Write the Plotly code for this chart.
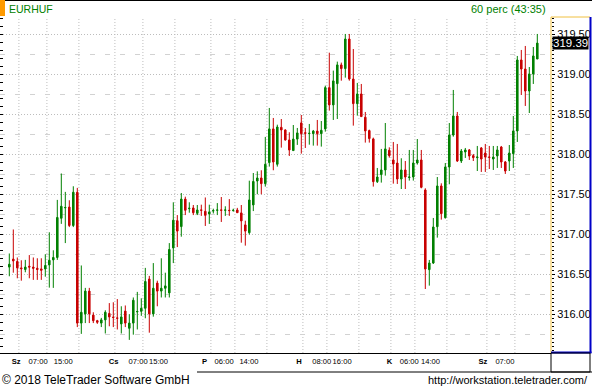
import plotly.graph_objects as go

# ---------------- data (EURHUF, 60-minute candles) ----------------
OPEN = [316.59, 316.69, 316.66, 316.58, 316.56, 316.60, 316.59, 316.575, 316.567, 316.567,
        316.617, 316.68, 316.71, 317.20, 317.33, 317.34, 317.11, 317.525, 315.89, 316.005,
        316.29, 315.99, 315.92, 315.89, 315.93, 316.01, 315.965, 315.955, 315.88, 316.04,
        315.825, 315.89, 316.03, 316.037, 316.075, 316.44, 316.005, 316.39, 316.29, 316.325,
        316.267, 316.83, 317.17, 317.096, 317.44, 317.32, 317.329, 317.262, 317.305, 317.287,
        317.254, 317.29, 317.30, 317.305, 317.30, 317.30, 317.296, 317.304, 317.267, 317.117,
        317.02, 317.367, 317.666, 317.704, 317.633, 317.896, 318.317, 317.875, 318.337, 318.304,
        318.179, 318.046, 318.19, 318.392, 318.27, 318.258, 318.258, 318.29, 318.258, 318.317,
        318.833, 318.617, 318.883, 319.117, 319.071, 319.441, 318.941, 318.633, 318.754, 318.463,
        318.296, 318.192, 317.658, 317.746, 317.804, 318.05, 317.929, 317.891, 317.691, 317.804,
        317.71, 317.716, 317.891, 317.929, 317.554, 316.558, 316.641, 317.095, 317.604, 317.208,
        317.841, 318.241, 318.479, 317.916, 318.029, 318.054, 317.983, 317.958, 318.079, 318.016,
        317.966, 317.941, 317.979, 318.091, 317.904, 317.916, 318.008, 318.291, 319.179, 319.066,
        318.791, 319.004, 319.191]
HIGH = [316.76, 317.06, 316.71, 316.675, 316.68, 316.74, 316.71, 316.70, 316.70, 316.75,
        317.025, 316.80, 317.43, 317.76, 317.53, 317.425, 317.60, 317.58, 316.61, 316.33,
        316.33, 316.025, 315.93, 315.955, 316.05, 316.14, 316.15, 316.19, 316.10, 316.11,
        316.00, 316.21, 316.28, 316.20, 316.58, 316.48, 316.64, 316.42, 316.70, 316.52,
        316.89, 317.40, 317.24, 317.516, 317.47, 317.40, 317.366, 317.366, 317.37, 317.46,
        317.37, 317.32, 317.39, 317.466, 317.35, 317.44, 317.32, 317.33, 317.366, 317.17,
        317.67, 317.766, 317.787, 317.80, 318.217, 318.579, 318.454, 318.37, 318.441, 318.312,
        318.275, 318.366, 318.329, 318.491, 318.329, 318.379, 318.304, 318.429, 318.416, 318.858,
        319.27, 319.046, 319.158, 319.146, 319.504, 319.504, 319.316, 318.892, 318.879, 318.529,
        318.308, 318.208, 317.829, 318.067, 318.391, 318.087, 318.154, 318.129, 317.95, 317.916,
        318.054, 318.054, 318.191, 318.054, 317.575, 316.679, 317.204, 317.716, 317.637, 317.891,
        318.391, 318.804, 318.529, 318.066, 318.079, 318.066, 318.004, 318.104, 318.091, 318.129,
        318.104, 318.104, 318.104, 318.104, 317.916, 318.116, 318.479, 319.229, 319.304, 319.354,
        319.091, 319.341, 319.504]
LOW = [316.475, 316.52, 316.45, 316.42, 316.525, 316.45, 316.43, 316.43, 316.43, 316.47,
       316.333, 316.33, 316.68, 317.13, 316.89, 317.09, 317.09, 315.84, 315.755, 315.89,
       315.89, 315.89, 315.88, 315.84, 315.76, 315.85, 315.84, 315.81, 315.76, 315.84,
       315.68, 315.745, 315.81, 315.98, 315.95, 315.77, 315.97, 316.10, 316.21, 316.21,
       316.21, 316.64, 316.84, 316.97, 317.24, 317.27, 317.24, 317.24, 317.23, 317.104,
       317.13, 317.26, 317.24, 317.154, 317.23, 317.23, 317.283, 317.27, 316.895, 316.858,
       316.996, 317.29, 317.50, 317.50, 317.596, 317.846, 317.80, 317.846, 318.083, 318.171,
       317.979, 318.046, 318.117, 318.008, 318.079, 318.12, 318.108, 318.108, 318.096, 318.283,
       318.546, 318.429, 318.441, 318.92, 318.958, 318.92, 318.358, 318.483, 318.471, 318.146,
       318.146, 317.596, 317.641, 317.646, 317.733, 317.958, 317.633, 317.629, 317.566, 317.566,
       317.671, 317.671, 317.871, 317.575, 316.316, 316.358, 316.629, 316.958, 317.183, 317.196,
       317.625, 318.22, 317.904, 317.891, 317.954, 317.929, 317.916, 317.791, 317.779, 317.779,
       317.816, 317.804, 317.829, 317.829, 317.754, 317.791, 317.829, 318.154, 318.741, 318.604,
       318.516, 318.879, 319.191]
CLOSE = [316.625, 316.667, 316.58, 316.57, 316.59, 316.59, 316.575, 316.56, 316.55, 316.61,
         316.675, 316.71, 317.21, 317.35, 317.335, 317.11, 317.525, 315.89, 316.025, 316.29,
         316.005, 315.92, 315.90, 315.93, 316.025, 315.967, 315.96, 315.95, 315.967, 315.89,
         315.89, 316.175, 316.035, 316.075, 316.41, 316.005, 316.325, 316.29, 316.325, 316.355,
         316.81, 317.175, 317.04, 317.44, 317.30, 317.325, 317.27, 317.304, 317.30, 317.237,
         317.279, 317.296, 317.304, 317.30, 317.304, 317.296, 317.30, 317.27, 317.167, 317.04,
         317.429, 317.66, 317.704, 317.633, 317.875, 318.317, 317.904, 318.341, 318.304, 318.179,
         318.054, 318.19, 318.267, 318.258, 318.262, 318.262, 318.29, 318.258, 318.30, 318.833,
         318.617, 318.917, 319.117, 319.071, 319.441, 318.941, 318.633, 318.754, 318.471, 318.292,
         318.196, 317.658, 317.716, 317.804, 318.067, 317.983, 317.879, 317.691, 317.804, 317.716,
         317.716, 317.891, 317.929, 317.587, 316.566, 316.641, 317.091, 317.604, 317.258, 317.841,
         318.241, 318.479, 317.916, 318.041, 318.054, 317.979, 317.958, 317.966, 317.941, 317.966,
         317.962, 317.966, 318.054, 317.904, 317.791, 318.016, 318.291, 319.179, 319.066, 318.791,
         319.004, 319.229, 319.39]

# time-axis labels (Hungarian day abbreviations + hours)
TICK_TEXT = ["<b>Sz</b>", "07:00", "15:00", "<b>Cs</b>", "07:00", "15:00",
             "<b>P</b>", "06:00", "14:00", "<b>H</b>", "08:00", "16:00",
             "<b>K</b>", "06:00", "14:00", "<b>Sz</b>", "07:00"]
# label positions (in candle-index units)
TICK_POS = [1.7, 7.2, 13.5, 26.1, 32.2, 37.3, 48.8, 53.7, 59.9, 72.4, 78.1, 83.2,
            95.05, 100.0, 105.3, 118.4, 123.9]
# candle indexes where a time gridline sits (day starts and labelled hours)
GRID_IDX = [2, 9, 17, 26, 33, 41, 50, 56, 64, 73, 79, 87, 95, 101, 109, 119, 126]

SYMBOL = "EURHUF"
PERIOD = "60 perc (43:35)"

# ---------------- figure ----------------
N = len(CLOSE)
X = list(range(N))

W, H = 592, 390
ML, MR, MT, MB = 0, 41, 17, 37
PW, PH = W - ML - MR, H - MT - MB


def px(x):
    return (x - ML) / PW


def py(y):
    return (H - MB - y) / PH


GREEN = "#008000"
RED = "#c80000"
GRID = "#bdbdbd"

fig = go.Figure()
fig.add_trace(go.Candlestick(
    x=X, open=OPEN, high=HIGH, low=LOW, close=CLOSE,
    increasing=dict(line=dict(color=GREEN, width=1), fillcolor=GREEN),
    decreasing=dict(line=dict(color=RED, width=1), fillcolor=RED),
    whiskerwidth=0, hoverinfo="skip", showlegend=False,
))

ymin, ymax = 315.516, 319.716
quarter = [v / 4 for v in range(int(ymin * 4) + 1, int(ymax * 4) + 1) if v % 2 == 1]

fig.update_layout(
    width=W, height=H, margin=dict(l=ML, r=MR, t=MT, b=MB, pad=0),
    paper_bgcolor="white", plot_bgcolor="white",
    boxgap=0.45,
    xaxis=dict(
        range=[-2.325, 135.425], rangeslider=dict(visible=False),
        tickmode="array", tickvals=TICK_POS, ticktext=TICK_TEXT, tickangle=0,
        ticks="", showgrid=False, zeroline=False,
        showline=True, linecolor="black", linewidth=1,
        tickfont=dict(family="Liberation Sans, Arial", size=7.6, color="black"),
        ticklabelstandoff=1,
    ),
    yaxis=dict(
        range=[ymin, ymax], side="right", dtick=0.5, tick0=316, tickformat=".2f",
        ticks="outside", ticklen=3, tickcolor="black", tickwidth=1,
        showgrid=True, gridcolor=GRID, griddash="1px,2px", gridwidth=1,
        zeroline=False, showline=False,
        tickfont=dict(family="Liberation Sans, Arial", size=11, color="black"),
        ticklabelstandoff=0,
        minor=dict(dtick=0.05, tick0=316, ticks="outside", ticklen=2, tickcolor="black", showgrid=False),
    ),
    yaxis2=dict(
        range=[ymin, ymax], overlaying="y", side="left", matches="y",
        tickmode="array", tickvals=quarter, ticks="", showticklabels=False,
        showgrid=True, gridcolor="#d2d2d2", griddash="5px,10px", gridwidth=1,
        zeroline=False, showline=True, linecolor="black", linewidth=1,
        minor=dict(dtick=0.1, tick0=316, ticks="inside", ticklen=3, tickcolor="black", showgrid=False),
    ),
)
# dummy trace to activate yaxis2
fig.add_trace(go.Scatter(x=[None], y=[None], yaxis="y2", showlegend=False, hoverinfo="skip"))

shapes = []
# vertical time gridlines
for g in GRID_IDX:
    shapes.append(dict(type="line", xref="x", yref="paper", x0=g + 0.4, x1=g + 0.4, y0=0, y1=1,
                       layer="below", line=dict(color=GRID, width=1, dash="1px,2px")))
# top black border
shapes.append(dict(type="line", xref="paper", yref="paper", x0=px(0), x1=px(592), y0=py(0.5), y1=py(0.5),
                   line=dict(color="black", width=1)))
# orange marker top-left
shapes.append(dict(type="rect", xref="paper", yref="paper", x0=px(0), x1=px(5), y0=py(0), y1=py(16),
                   fillcolor="#ff9a00", line=dict(width=0)))
# price-axis panel frame
shapes.append(dict(type="line", xref="paper", yref="paper", x0=px(551), x1=px(551), y0=py(17), y1=py(353),
                   line=dict(color="#f0c040", width=1)))
shapes.append(dict(type="line", xref="paper", yref="paper", x0=px(551), x1=px(590), y0=py(17), y1=py(17),
                   line=dict(color="#f0c040", width=1)))
shapes.append(dict(type="line", xref="paper", yref="paper", x0=px(590.5), x1=px(590.5), y0=py(17), y1=py(353),
                   line=dict(color="#0000c8", width=2)))
shapes.append(dict(type="line", xref="paper", yref="paper", x0=px(551), x1=px(591.5), y0=py(352.5), y1=py(352.5),
                   line=dict(color="#0000c8", width=2)))
# time-axis strip
shapes.append(dict(type="rect", xref="paper", yref="paper", x0=px(551), x1=px(590), y0=py(353), y1=py(372),
                   line=dict(color="black", width=1)))
shapes.append(dict(type="line", xref="paper", yref="paper", x0=px(197), x1=px(592), y0=py(372), y1=py(372),
                   line=dict(color="black", width=1)))
fig.update_layout(shapes=shapes)

ann = []
ann.append(dict(xref="paper", yref="paper", x=px(7), y=py(9), xanchor="left", yanchor="middle",
                text=SYMBOL, showarrow=False,
                font=dict(family="Liberation Sans, Arial", size=10.5, color=GREEN)))
ann.append(dict(xref="paper", yref="paper", x=px(548), y=py(9), xanchor="right", yanchor="middle",
                text=PERIOD, showarrow=False,
                font=dict(family="Liberation Sans, Arial", size=11, color=GREEN)))
ann.append(dict(xref="paper", yref="y", x=px(551.5), y=CLOSE[-1], xanchor="left", yanchor="middle",
                text=f"{CLOSE[-1]:.2f}", showarrow=False, bgcolor="black", borderpad=0,
                font=dict(family="Liberation Sans, Arial", size=11.5, color="white")))
ann.append(dict(xref="paper", yref="paper", x=px(0), y=py(380), xanchor="left", yanchor="middle",
                text="© 2018 TeleTrader Software GmbH", showarrow=False,
                font=dict(family="Liberation Sans, Arial", size=12, color="black")))
ann.append(dict(xref="paper", yref="paper", x=px(590), y=py(380), xanchor="right", yanchor="middle",
                text="http://workstation.teletrader.com/", showarrow=False,
                font=dict(family="Liberation Sans, Arial", size=11, color="black")))
fig.update_layout(annotations=ann)

fig.write_html("out.html")
